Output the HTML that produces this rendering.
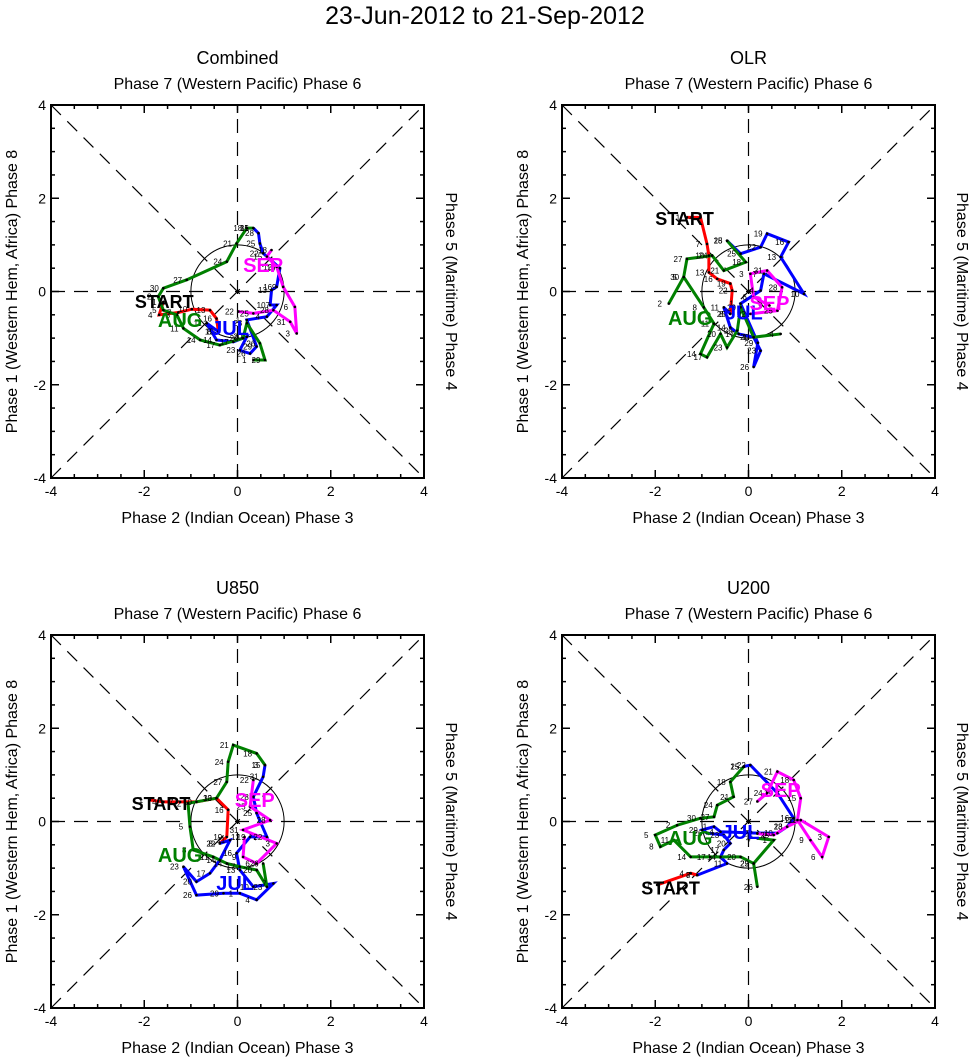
<!DOCTYPE html>
<html><head><meta charset="utf-8"><style>
html,body{margin:0;padding:0;background:#fff;}
svg{display:block;font-family:"Liberation Sans",sans-serif;}
</style></head><body>
<svg id="chart" width="971" height="1059" viewBox="0 0 971 1059">
<text x="485" y="24" font-size="25" text-anchor="middle">23-Jun-2012 to 21-Sep-2012</text>
</svg>
<script>
// ---------- data (data units: RMM1, RMM2) ----------
const panelTitles = ["Combined","OLR","U850","U200"];
const tickLabels = ["-4","-2","0","2","4"];
const tickValues = [-4,-2,0,2,4];
const monthNames = ["JUN","JUL","AUG","SEP"];
const monthColors = ["#ff0000","#0000ff","#008000","#ff00ff"];

const p1Jun = [[-1.59,-0.22],[-1.68,-0.50],[-1.27,-0.45],[-0.98,-0.38],[-0.59,-0.40],[-0.45,-0.58],[-0.41,-0.86]];
const p1Jul = [[-0.41,-0.86],[-0.66,-0.68],[-0.45,-1.04],[-0.09,-1.08],[0.20,-0.97],[0.05,-1.26],[0.27,-1.33],[0.41,-1.18],[0.20,-0.61],[0.63,-0.54],[0.84,-0.29],[0.70,-0.29],[0.73,0.03],[0.84,0.10],[0.91,0.50],[0.55,0.82],[0.48,1.03],[0.45,1.25],[0.34,1.36]];
const p1Aug = [[0.34,1.36],[0.20,1.36],[-0.02,1.03],[-0.23,0.64],[-1.09,0.25],[-1.59,0.07],[-1.70,-0.11],[-1.59,-0.40],[-1.30,-0.50],[-1.16,-0.79],[-0.80,-1.04],[-0.38,-1.15],[0.12,-1.00],[0.20,-0.68],[0.48,-1.11],[0.59,-1.47],[0.34,-1.47]];
const p1Sep = [[0.02,-0.43],[0.34,-0.47],[0.77,-0.40],[1.13,-0.65],[1.27,-0.90],[1.23,-0.33],[0.98,0.10],[0.84,0.53],[0.63,0.75],[0.73,0.89]];

const p2Jun = [[-1.32,1.59],[-1.03,1.59],[-0.89,1.02],[-0.85,0.77],[-0.85,0.41],[-0.67,0.27],[-0.39,0.17],[-0.35,0.02],[-0.39,-0.48]];
const p2Jul = [[-0.39,-0.48],[-0.53,-0.34],[-0.39,-0.77],[-0.21,-0.91],[0.11,-0.98],[0.26,-1.27],[0.11,-1.62],[0.20,-1.10],[-0.17,-0.26],[0.26,0.02],[0.33,0.38],[1.19,-0.05],[0.69,0.74],[0.86,1.06],[0.40,1.24],[0.26,0.95],[-0.17,0.81],[-0.46,1.09]];
const p2Aug = [[-0.46,1.09],[-0.06,0.63],[-0.53,0.45],[-0.78,0.77],[-1.32,0.70],[-1.39,0.31],[-1.71,-0.26],[-1.39,0.31],[-0.96,-0.34],[-0.74,-0.69],[-1.03,-1.34],[-0.89,-1.41],[-0.60,-0.91],[-0.46,-1.20],[-0.24,-0.84],[-0.17,-0.34],[0.11,-0.98],[0.69,-0.91]];
const p2Sep = [[0.04,-0.48],[0.62,-0.41],[0.72,0.09],[0.40,0.45],[0.04,0.38],[0.11,-0.12],[0.45,-0.30]];

const p3Jun = [[-1.88,0.46],[-1.59,0.42],[-1.23,0.42],[-0.88,0.42],[-0.45,0.50],[-0.20,0.25],[-0.23,-0.33],[-0.38,-0.47]];
const p3Jul = [[-0.38,-0.47],[-0.16,-0.40],[-0.38,-0.83],[-0.59,-1.11],[-0.88,-1.29],[-1.16,-0.97],[-0.88,-1.58],[-0.30,-1.54],[0.05,-1.54],[0.41,-1.68],[0.77,-1.33],[0.34,-1.40],[0.05,-1.04],[-0.02,-0.68],[0.27,-0.33],[0.63,-0.33],[0.41,0.18],[0.34,0.53],[0.55,0.96],[0.59,1.21]];
const p3Aug = [[0.59,1.21],[0.41,1.46],[-0.09,1.64],[-0.20,1.28],[-0.23,0.85],[-0.45,0.50],[-1.06,0.39],[-1.02,-0.11],[-0.95,-0.61],[-0.52,-0.76],[-0.23,-0.90],[0.05,-0.97],[0.41,-1.04],[0.63,-1.40],[0.55,-0.90]];
const p3Sep = [[0.34,0.89],[0.27,0.32],[0.70,0.03],[0.12,-0.18],[0.84,-0.47],[0.41,-0.90],[0.12,-0.76],[0.15,-0.33]];

const p4Jun = [[-1.96,-1.36],[-1.24,-1.11],[-1.10,-1.15]];
const p4Jul = [[-1.10,-1.15],[-0.46,-0.90],[-0.60,-0.76],[-0.53,-0.61],[-0.39,-0.47],[-0.53,-0.29],[-0.89,-0.25],[-0.99,-0.18],[-0.74,-0.11],[-0.60,-0.22],[0.19,-0.25],[0.62,-0.25],[0.83,-0.11],[0.97,0.07],[0.62,0.61],[0.04,1.21],[-0.10,1.18]];
const p4Aug = [[-0.10,1.18],[-0.39,0.85],[-0.32,0.53],[-0.67,0.35],[-0.74,0.10],[-1.03,0.07],[-1.53,-0.08],[-2.00,-0.29],[-1.89,-0.54],[-1.60,-0.40],[-1.24,-0.76],[-0.82,-0.76],[-0.17,-0.76],[0.11,-0.90],[0.19,-1.40],[0.11,-0.90],[0.54,-0.40],[0.19,-0.36]];
const p4Sep = [[0.19,-0.26],[0.54,-0.29],[0.83,-0.11],[1.12,0.03],[1.72,-0.33],[1.58,-0.76],[1.33,-0.40],[1.05,0.03],[1.12,0.50],[0.97,0.89],[0.62,1.07],[0.40,0.61],[0.19,0.43]];

const startPos = [[-2.2,-0.2],[-2.0,1.58],[-2.27,0.4],[-2.3,-1.42]];
const monthLabelPos = [
  [[-0.16,-0.78],[-1.23,-0.61],[0.55,0.57]],
  [[-0.1,-0.45],[-1.25,-0.57],[0.45,-0.25]],
  [[-0.05,-1.32],[-1.23,-0.72],[0.37,0.46]],
  [[-0.17,-0.22],[-1.25,-0.35],[0.69,0.68]]
];
const series = [[p1Jun,p1Jul,p1Aug,p1Sep],[p2Jun,p2Jul,p2Aug,p2Sep],[p3Jun,p3Jul,p3Aug,p3Sep],[p4Jun,p4Jul,p4Aug,p4Sep]];

// ---------- layout ----------
const NS="http://www.w3.org/2000/svg";
const svg=document.getElementById('chart');
const origins=[[51,105],[562,105],[51,635],[562,635]];
const W=373;
function mk(tag,attrs,parent){const e=document.createElementNS(NS,tag);for(const k in attrs)e.setAttribute(k,attrs[k]);(parent||svg).appendChild(e);return e;}

series.forEach((ps,pi)=>{
  const [ox,oy]=origins[pi];
  const sx=v=>ox+(v+4)/8*W, sy=v=>oy+(4-v)/8*W;
  const g=mk('g',{});
  
  
  const t=mk('text',{x:ox+W/2,y:oy-41,'font-size':18,'text-anchor':'middle'},g);t.textContent=panelTitles[pi];
  
  const tt=mk('text',{x:ox+W/2,y:oy-16,'font-size':16,'text-anchor':'middle'},g);tt.textContent='Phase 7 (Western Pacific) Phase 6';
  
  const bt=mk('text',{x:ox+W/2,y:oy+W+45,'font-size':16,'text-anchor':'middle'},g);bt.textContent='Phase 2 (Indian Ocean) Phase 3';
  
  const lt=mk('text',{x:0,y:0,'font-size':16,'text-anchor':'middle',transform:`translate(${ox-34},${oy+W/2}) rotate(-90)`},g);lt.textContent='Phase 1 (Western Hem, Africa) Phase 8';
  
  const rt=mk('text',{x:0,y:0,'font-size':16,'text-anchor':'middle',transform:`translate(${ox+W+22},${oy+W/2}) rotate(90)`},g);rt.textContent='Phase 5 (Maritime) Phase 4';
  
  [[-4,0,4,0],[0,-4,0,4],[-4,-4,4,4],[-4,4,4,-4]].forEach(l=>{
    const ln=mk('line',{x1:sx(l[0]),y1:sy(l[1]),x2:sx(l[2]),y2:sy(l[3]),stroke:'#000','stroke-width':1.2,'stroke-dasharray':'14,9'},g);
    
  });
  const c=mk('circle',{cx:sx(0),cy:sy(0),r:W/8,fill:'none',stroke:'#000','stroke-width':1},g);
  
  const fr=mk('rect',{x:ox,y:oy,width:W,height:W,fill:'none',stroke:'#000','stroke-width':2},g);
  
  for(let v=-4;v<=4;v+=0.5){
    const maj=Number.isInteger(v/2);const L=maj?8:4;
    mk('line',{x1:sx(v),y1:oy+W,x2:sx(v),y2:oy+W-L,stroke:'#000','stroke-width':1.5},g);
    mk('line',{x1:sx(v),y1:oy,x2:sx(v),y2:oy+L,stroke:'#000','stroke-width':1.5},g);
    mk('line',{x1:ox,y1:sy(v),x2:ox+L,y2:sy(v),stroke:'#000','stroke-width':1.5},g);
    mk('line',{x1:ox+W,y1:sy(v),x2:ox+W-L,y2:sy(v),stroke:'#000','stroke-width':1.5},g);
  }
  tickValues.forEach((v,i)=>{
    const a=mk('text',{x:sx(v),y:oy+W+18,'font-size':14,'text-anchor':'middle'},g);a.textContent=tickLabels[i];
    
    const b=mk('text',{x:ox-5,y:sy(v)+5,'font-size':14,'text-anchor':'end'},g);b.textContent=tickLabels[i];
    
  });
  ps.forEach((pts,mi)=>{
    const pl=mk('polyline',{points:pts.map(p=>sx(p[0])+','+sy(p[1])).join(' '),fill:'none',stroke:monthColors[mi],'stroke-width':3,'stroke-linejoin':'miter'},g);
    
    
  });
  ps.forEach((pts,mi)=>{
    pts.forEach((p,di)=>{
      const d=mk('circle',{cx:sx(p[0]),cy:sy(p[1]),r:1.3,fill:'#000'},g);
      
      
      const lb=mk('text',{x:sx(p[0])-9,y:sy(p[1])+3,'font-size':8,'text-anchor':'middle'},g);
      lb.textContent=String((di*3+mi*7)%31+1);
      
      
    });
  });
  const st=mk('text',{x:sx(startPos[pi][0]),y:sy(startPos[pi][1])+7,'font-size':18,'font-weight':'bold','text-anchor':'start'},g);
  st.textContent='START';
  
  monthLabelPos[pi].forEach((p,k)=>{
    const m=mk('text',{x:sx(p[0]),y:sy(p[1])+7,'font-size':20,'font-weight':'bold','text-anchor':'middle',fill:monthColors[k+1]},g);
    m.textContent=monthNames[k+1];
    
    
  });
});
</script>
</body></html>
